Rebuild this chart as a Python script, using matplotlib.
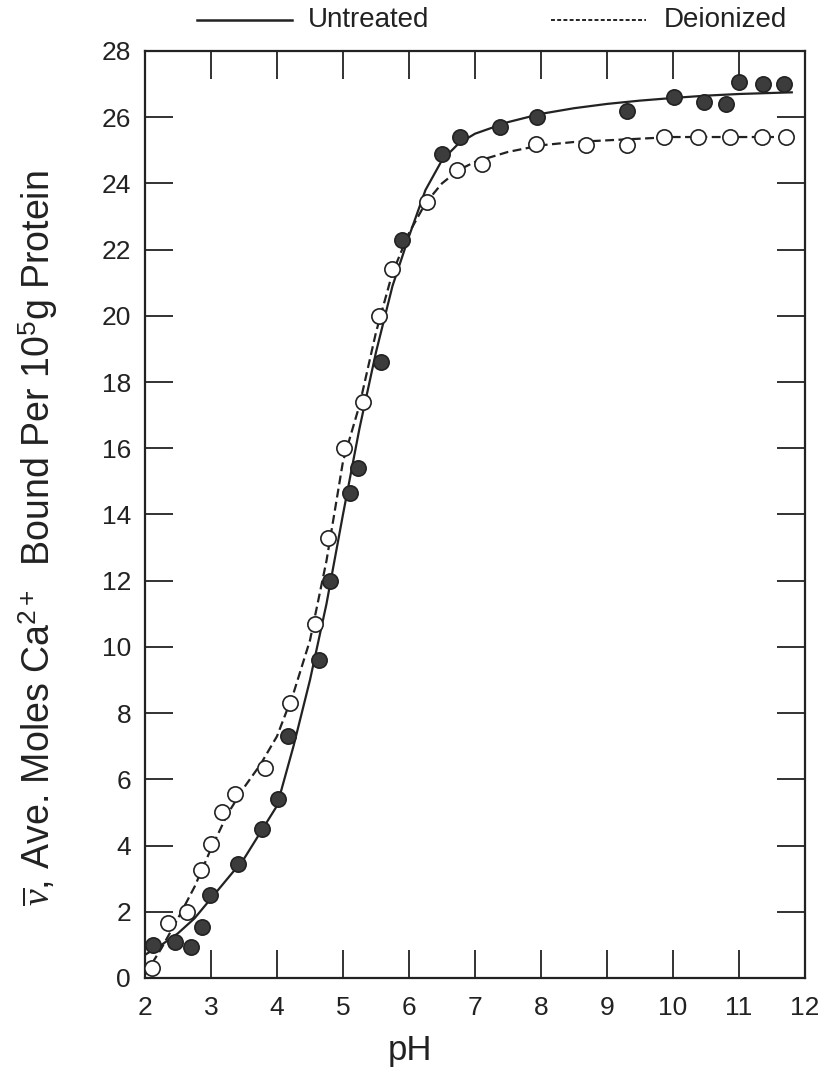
import matplotlib
matplotlib.use("Agg")
import matplotlib.pyplot as plt
from matplotlib.lines import Line2D

plt.rcParams['font.family'] = ['Liberation Sans', 'DejaVu Sans']
plt.rcParams['mathtext.fontset'] = 'custom'
plt.rcParams['mathtext.rm'] = 'Liberation Sans'
plt.rcParams['mathtext.it'] = 'Liberation Serif:italic'
plt.rcParams['mathtext.bf'] = 'Liberation Sans:bold'

ink = '#222222'

# measured Ca2+ binding, untreated protein (filled circles)
ph_untreated = [2.12, 2.45, 2.7, 2.87, 2.98, 3.41, 3.77, 4.01, 4.16, 4.63, 4.8, 5.1,
                5.22, 5.57, 5.9, 6.5, 6.78, 7.38, 7.94, 9.3, 10.02, 10.47, 10.8,
                11.0, 11.36, 11.68]
nu_untreated = [1.0, 1.1, 0.95, 1.55, 2.5, 3.45, 4.5, 5.4, 7.3, 9.6, 12.0, 14.65,
                15.4, 18.6, 22.3, 24.9, 25.4, 25.7, 26.0, 26.2, 26.6, 26.45, 26.4,
                27.05, 27.0, 27.0]

# measured Ca2+ binding, deionized protein (open circles)
ph_deionized = [2.1, 2.35, 2.63, 2.85, 3.0, 3.16, 3.37, 3.82, 4.2, 4.58, 4.78, 5.02,
                5.3, 5.55, 5.75, 6.27, 6.72, 7.1, 7.92, 8.68, 9.3, 9.86, 10.38,
                10.86, 11.35, 11.71]
nu_deionized = [0.3, 1.65, 2.0, 3.25, 4.05, 5.0, 5.55, 6.35, 8.3, 10.7, 13.3, 16.0,
                17.4, 20.0, 21.4, 23.45, 24.4, 24.6, 25.2, 25.15, 25.15, 25.4, 25.4,
                25.4, 25.4, 25.4]

# fitted binding curves
curve_ph = [2.0, 2.25, 2.5, 2.75, 3.0, 3.25, 3.5, 3.75, 4.0, 4.25, 4.5, 4.75, 5.0,
            5.25, 5.5, 5.75, 6.0, 6.25, 6.5, 6.75, 7.0, 7.5, 8.0, 8.5, 9.0, 9.5,
            10.0, 10.5, 11.0, 11.8]
curve_untreated = [0.7, 1.0, 1.35, 1.8, 2.4, 3.0, 3.6, 4.4, 5.2, 7.0, 9.0, 11.3, 14.0,
                   16.6, 18.9, 20.9, 22.4, 23.8, 24.7, 25.2, 25.5, 25.85, 26.1, 26.27,
                   26.4, 26.5, 26.58, 26.65, 26.7, 26.75]
curve_deionized = [0.1, 0.9, 1.8, 2.75, 3.9, 4.95, 5.75, 6.45, 7.3, 8.6, 10.2, 12.6,
                   15.6, 17.3, 19.5, 21.3, 22.5, 23.4, 24.0, 24.4, 24.65, 24.95, 25.15,
                   25.25, 25.3, 25.35, 25.4, 25.4, 25.4, 25.4]

fig = plt.figure(figsize=(8.28, 10.84), dpi=100)
ax = fig.add_axes([0.1751, 0.0978, 0.7971, 0.8552])

ax.plot(curve_ph, curve_untreated, color=ink, lw=1.6, zorder=2)
ax.plot(curve_ph, curve_deionized, color=ink, lw=1.6, dashes=(4, 2), zorder=2)
ax.plot(ph_untreated, nu_untreated, 'o', ms=11, mfc='#3c3c3c', mec=ink, mew=1.2, zorder=3)
ax.plot(ph_deionized, nu_deionized, 'o', ms=11, mfc='white', mec=ink, mew=1.2, zorder=3)

ax.set_xlim(2, 12)
ax.set_ylim(0, 28)
ax.set_xticks(range(2, 13))
ax.set_yticks(range(0, 29, 2))
ax.tick_params(direction='in', length=20, width=1.3, colors=ink, labelsize=19,
               top=True, right=True, pad=10)
ax.tick_params(axis='x', pad=13)
for s in ax.spines.values():
    s.set_linewidth(1.6)
    s.set_color(ink)

fig.text(0.046, 0.504,
         r'$\overline{\nu}$, Ave. Moles Ca$^{2+}$  Bound Per 10$^{5}$g Protein',
         rotation=90, ha='center', va='center', fontsize=27, color=ink)
fig.text(0.495, 0.031, 'pH', ha='center', va='center', fontsize=25, color=ink)

# legend above the axes
fig.add_artist(Line2D([0.238, 0.353], [0.9815, 0.9815], transform=fig.transFigure,
                      color=ink, lw=1.8))
fig.text(0.372, 0.9815, 'Untreated', ha='left', va='center', fontsize=20, color=ink)
fig.add_artist(Line2D([0.665, 0.780], [0.9815, 0.9815], transform=fig.transFigure,
                      color=ink, lw=1.4, dashes=(2, 1.2)))
fig.text(0.802, 0.9815, 'Deionized', ha='left', va='center', fontsize=20, color=ink)

fig.savefig('out.png', dpi=100)
